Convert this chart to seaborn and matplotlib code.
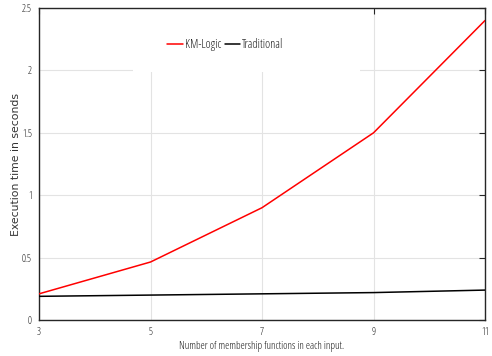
import matplotlib
matplotlib.use("Agg")
import matplotlib.pyplot as plt
import seaborn as sns
import pandas as pd
from matplotlib.patches import Rectangle
from matplotlib.font_manager import FontProperties

mfs = [3, 5, 7, 9, 11]
km_logic = [0.21, 0.465, 0.90, 1.50, 2.40]
traditional = [0.19, 0.20, 0.21, 0.22, 0.24]
series_names = ["KM-Logic", "Traditional"]
xticks = [3, 5, 7, 9, 11]
yticks = [0, 0.5, 1, 1.5, 2, 2.5]
ytick_labels = ["0", "0.5", "1", "1.5", "2", "2.5"]

df = pd.DataFrame({
    "mf": mfs * 2,
    "time": km_logic + traditional,
    "series": [series_names[0]] * len(mfs) + [series_names[1]] * len(mfs),
})

sns.set_theme(style="white")
plt.rcParams["font.family"] = ["DejaVu Sans"]

def narrow(size):
    return FontProperties(family="Open Sans", stretch="condensed", weight=300, size=size)

TXT = "#1a1a1a"

fig = plt.figure(figsize=(4.92, 3.56), dpi=100)
ax = fig.add_axes([0.0793, 0.101, 0.9065, 0.8765])

sns.lineplot(data=df, x="mf", y="time", hue="series",
             palette={"KM-Logic": "#ff0000", "Traditional": "#000000"},
             linewidth=1.1, ax=ax, legend=True, zorder=3)

ax.set_xlim(3, 11)
ax.set_ylim(0, 2.5)
ax.set_xticks(xticks)
ax.set_xticklabels([str(v) for v in xticks], fontproperties=narrow(7.2))
ax.set_yticks(yticks)
ax.set_yticklabels(ytick_labels, fontproperties=narrow(7.2))
ax.grid(True, color="#e3e3e3", linewidth=0.8)
ax.set_axisbelow(True)

ax.add_patch(Rectangle((0.211, 0.795), 0.509, 0.21, transform=ax.transAxes,
                       facecolor="white", edgecolor="none", zorder=1.5, clip_on=True))

for s in ax.spines.values():
    s.set_color("#262626")
    s.set_linewidth(1.0)
ax.tick_params(direction="in", length=4, width=0.8, color="#262626",
               top=True, right=True, labelcolor=TXT)
ax.tick_params(axis="x", pad=5)
ax.tick_params(axis="y", pad=5)

ax.set_xlabel("Number of membership functions in each input.", fontproperties=narrow(7.7),
              color=TXT, labelpad=2)
ax.set_ylabel("Execution time in seconds", fontsize=7.8, color="#333333",
              family="DejaVu Sans", labelpad=0.5)

leg = ax.legend(loc="center left", bbox_to_anchor=(0.287, 0.882), ncol=2,
                frameon=False, prop=narrow(8.7), handlelength=1.3, handletextpad=0.15,
                columnspacing=0.3, borderaxespad=0, borderpad=0)
for t in leg.get_texts():
    t.set_color(TXT)

fig.savefig("out.png", dpi=100)
